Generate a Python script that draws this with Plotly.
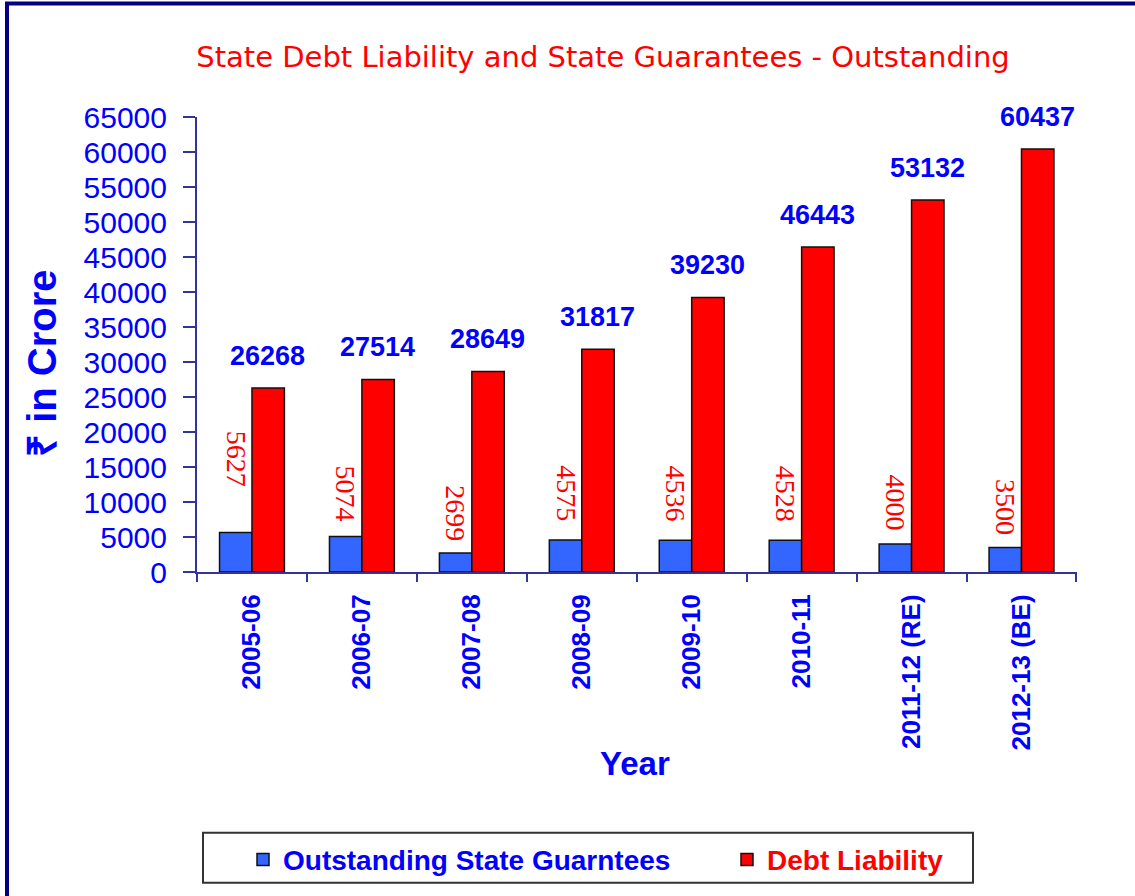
import plotly.graph_objects as go

# data
years = ["2005-06", "2006-07", "2007-08", "2008-09", "2009-10",
         "2010-11", "2011-12 (RE)", "2012-13 (BE)"]
guarantees = [5627, 5074, 2699, 4575, 4536, 4528, 4000, 3500]
debt = [26268, 27514, 28649, 31817, 39230, 46443, 53132, 60437]

NAVY = "#000080"
AXIS = "#333399"
BLUE_TXT = "#0000FF"
RED_TXT = "#FF0000"
SANS = "Liberation Sans, Arial, sans-serif"
SERIF = "Liberation Serif, Times New Roman, serif"

# plot area in pixels (fig is 1135 x 896)
L, R, T, B = 197, 58, 117, 322
PW, PH = 1135 - L - R, 896 - T - B


def px_x(p):
    return (p - L) / PW


def px_y(p):
    return (896 - B - p) / PH


fig = go.Figure()
fig.add_trace(go.Bar(x=years, y=guarantees, name="Outstanding State Guarntees", legend="legend",
                     marker=dict(color="#3366FF", line=dict(color="#111111", width=1.5))))
fig.add_trace(go.Bar(x=years, y=debt, name="Debt Liability", legend="legend2",
                     marker=dict(color="#FF0000", line=dict(color="#111111", width=1.5))))

## value labels
red_gap = [44, 13, 10, 17, 17, 17, 12, 11]
for i, yr in enumerate(years):
    fig.add_annotation(x=yr, y=debt[i], text="<b>%d</b>" % debt[i], showarrow=False,
                       xshift=16, yshift=15, yanchor="bottom",
                       font=dict(family=SANS, size=27, color=BLUE_TXT))
    fig.add_annotation(x=yr, y=guarantees[i], text=str(guarantees[i]), showarrow=False,
                       textangle=90, xshift=-16, yshift=red_gap[i], yanchor="bottom",
                       font=dict(family=SERIF, size=28, color=RED_TXT))

## axis titles as annotations
fig.add_annotation(xref="paper", yref="paper", x=px_x(18), y=px_y(365),
                   text="<b>₹ in Crore</b>", textangle=-90, showarrow=False,
                   font=dict(family=SANS, size=40, color=BLUE_TXT))
fig.add_annotation(xref="paper", yref="paper", x=px_x(635), y=px_y(787),
                   text="<b>Year</b>", showarrow=False,
                   font=dict(family=SANS, size=33, color=BLUE_TXT))

## legend box + outer frame
fig.add_shape(type="rect", xref="paper", yref="paper",
              x0=px_x(203), x1=px_x(973), y0=px_y(886), y1=px_y(836),
              line=dict(color="#333333", width=2), fillcolor="white", layer="below")
fig.add_shape(type="line", xref="paper", yref="paper",
              x0=px_x(7), x1=px_x(7), y0=px_y(3), y1=px_y(900),
              line=dict(color=NAVY, width=4))
fig.add_shape(type="line", xref="paper", yref="paper",
              x0=px_x(5), x1=px_x(1140), y0=px_y(3), y1=px_y(3),
              line=dict(color=NAVY, width=4))

leg = dict(orientation="h", xanchor="left", y=px_y(863), yanchor="middle",
           bgcolor="rgba(0,0,0,0)", borderwidth=0)

fig.update_layout(
    width=1135, height=896,
    margin=dict(l=L, r=R, t=T, b=B),
    paper_bgcolor="white", plot_bgcolor="white",
    barmode="group", bargap=0.41, bargroupgap=0,
    title=dict(text="State Debt Liability and State Guarantees - Outstanding",
               x=603 / 1135, xanchor="center", y=1 - 57 / 896, yanchor="middle",
               font=dict(family="DejaVu Sans, Verdana, sans-serif", size=29, color=RED_TXT)),
    legend=dict(leg, x=px_x(243),
                font=dict(family=SANS, size=28, color=BLUE_TXT, weight="bold")),
    legend2=dict(leg, x=px_x(727),
                 font=dict(family=SANS, size=28, color=RED_TXT, weight="bold")),
    showlegend=True,
)

fig.update_xaxes(type="category", showline=True, linecolor=AXIS, linewidth=2, showgrid=False,
                 ticks="outside", tickson="boundaries", ticklen=8, tickcolor=AXIS, tickwidth=2,
                 ticklabelstandoff=10,
                 tickangle=-90, tickfont=dict(family=SANS, size=26, color=BLUE_TXT, weight="bold"))
fig.update_yaxes(range=[0, 65000], dtick=5000, tickformat="d",
                 showline=True, linecolor=AXIS, linewidth=2, showgrid=False, zeroline=False,
                 ticks="outside", ticklen=12, tickcolor=AXIS, tickwidth=2, ticklabelstandoff=10,
                 tickfont=dict(family=SANS, size=30, color=BLUE_TXT))

fig.write_html("out.html", config={"displayModeBar": False},
               post_script="document.body.style.margin='0px';")
